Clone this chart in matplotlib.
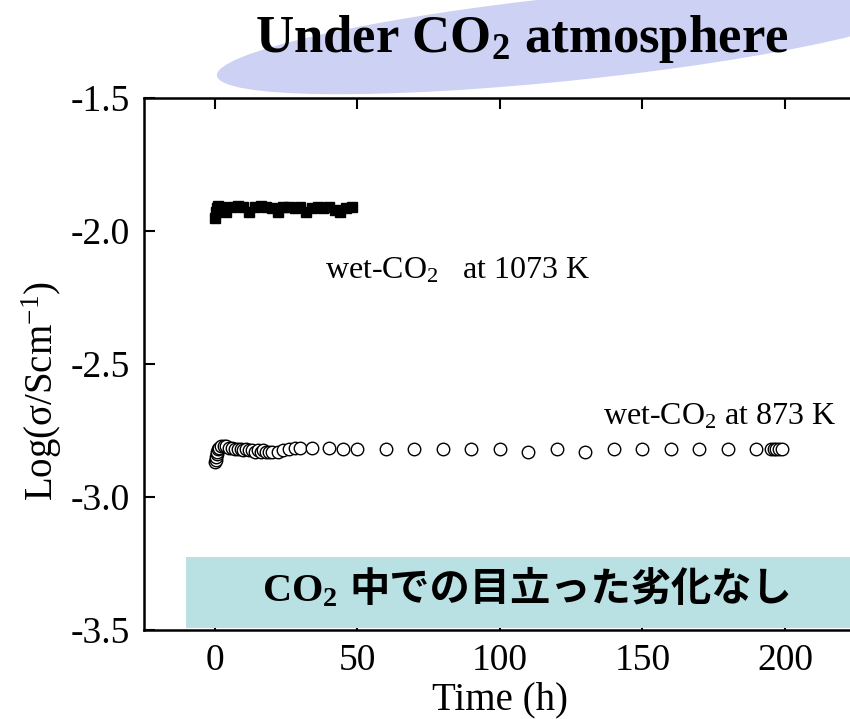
import matplotlib
matplotlib.use("Agg")
import matplotlib.pyplot as plt
from matplotlib.patches import Ellipse, Rectangle
from matplotlib.transforms import IdentityTransform
from matplotlib.ticker import FormatStrFormatter

plt.rcParams['font.family'] = 'Liberation Serif'
plt.rcParams['mathtext.fontset'] = 'custom'
plt.rcParams['mathtext.rm'] = 'Liberation Serif'
plt.rcParams['mathtext.it'] = 'Liberation Serif:italic'
plt.rcParams['mathtext.bf'] = 'Liberation Serif:bold'
plt.rcParams['axes.unicode_minus'] = False

# wet CO2 at 1073 K (filled squares)
t_1073 = [0, 0.3, 0.6, 1, 2, 3, 4, 6, 8, 10, 12, 14, 16, 18, 20, 22, 24, 26, 28,
          30, 32, 34, 36, 38, 40, 42, 44, 46, 48]
s_1073 = [-1.95, -1.93, -1.915, -1.905, -1.91, -1.915, -1.93, -1.91, -1.905, -1.91,
          -1.93, -1.91, -1.905, -1.91, -1.915, -1.93, -1.91, -1.91, -1.915, -1.91,
          -1.93, -1.915, -1.91, -1.915, -1.91, -1.92, -1.93, -1.915, -1.91]

# wet CO2 at 873 K (open circles)
t_873 = [0, 0.2, 0.4, 0.6, 0.8, 1, 1.5, 2, 3, 4, 5, 6, 7, 8, 9, 10, 11, 12, 13, 14,
         15, 16, 17, 18, 19, 20, 22, 24, 26, 28, 30, 34, 40, 45, 50, 60, 70, 80, 90,
         100, 110, 120, 130, 140, 150, 160, 170, 180, 190, 195, 196, 197, 198, 199]
s_873 = [-2.87, -2.86, -2.85, -2.84, -2.83, -2.82, -2.815, -2.81, -2.81, -2.81,
         -2.815, -2.815, -2.82, -2.82, -2.82, -2.825, -2.82, -2.825, -2.825, -2.83,
         -2.825, -2.83, -2.825, -2.83, -2.83, -2.83, -2.83, -2.825, -2.82, -2.815,
         -2.815, -2.815, -2.815, -2.82, -2.82, -2.82, -2.82, -2.82, -2.82,
         -2.82, -2.83, -2.82, -2.83, -2.82, -2.82, -2.82, -2.82, -2.82, -2.82,
         -2.82, -2.82, -2.82, -2.82, -2.82]

x_ticks = [0, 50, 100, 150, 200]
y_ticks = [-3.5, -3.0, -2.5, -2.0, -1.5]

W, H = 850, 719
fig = plt.figure(figsize=(W / 100, H / 100), dpi=100)

def fx(px):
    return px / W

def fy(py):
    return 1 - py / H

ax = fig.add_axes([0.1691, 0.1238, 0.8382, 0.7399])
ax.set_xlim(-25, 225)
ax.set_ylim(-3.5, -1.5)

ax.plot(t_1073, s_1073, 's', color='black', markersize=7, zorder=4)
ax.plot(t_873, s_873, 'o', mfc='white', mec='black', mew=1.0, markersize=9, zorder=4)

ax.text(38.6, -2.177, r'wet-CO$_2$   at 1073 K', fontsize=23, va='baseline')
ax.text(136, -2.729, r'wet-CO$_2$ at 873 K', fontsize=23, va='baseline')

# banner at the bottom of the plot
ax.add_patch(Rectangle((-10, -3.4925), 250, 0.267, facecolor='#b9e1e3',
                       edgecolor='none', zorder=5, clip_on=False))

ax.set_xticks(x_ticks)
ax.set_yticks(y_ticks)
ax.yaxis.set_major_formatter(FormatStrFormatter('%.1f'))
ax.tick_params(direction='in', length=8, width=1.5, labelsize=27,
               top=True, right=False)
ax.tick_params(axis='x', pad=10)
ax.tick_params(axis='y', pad=10)
for sp in ax.spines.values():
    sp.set_linewidth(1.8)

ax.set_xlabel('Time (h)', fontsize=28, labelpad=2)
ax.set_ylabel(r'Log(σ/Scm$^{-1}$)', fontsize=28)
ax.yaxis.set_label_coords(-0.112, 0.449)

# title with lavender ellipse behind it
ell = Ellipse((575, H - 38), 720, 84, angle=6, transform=IdentityTransform(),
              facecolor='#cdd1f4', edgecolor='none', zorder=0)
fig.add_artist(ell)
fig.text(fx(522), fy(52), r'Under CO$_\mathbf{2}$ atmosphere', fontsize=38,
         fontweight='bold', ha='center', va='baseline', zorder=2)

fig.text(fx(262), fy(601), r'CO$_\mathbf{2}$', fontsize=29, fontweight='bold',
         va='baseline', zorder=6)
fig.text(fx(349), fy(601), '中での目立った劣化なし', fontsize=29,
         family=['Noto Sans CJK JP', 'DejaVu Sans'], fontweight='bold',
         va='baseline', zorder=6)

fig.savefig('out.png', dpi=100)
